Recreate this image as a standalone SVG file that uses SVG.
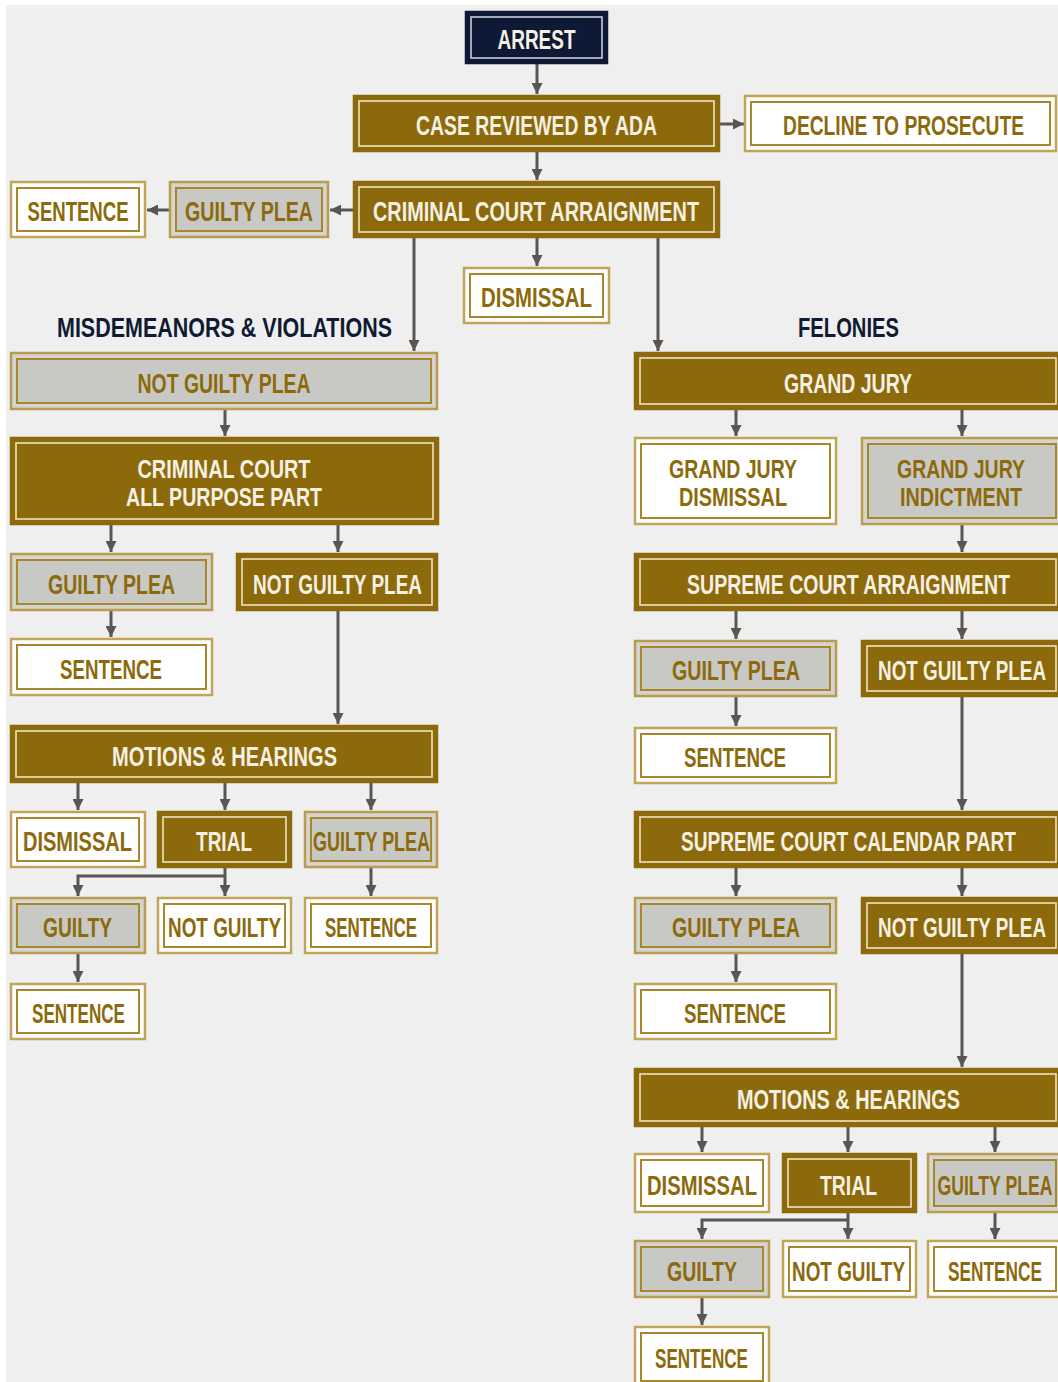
<svg xmlns="http://www.w3.org/2000/svg" width="1058" height="1382" viewBox="0 0 1058 1382">
<style>
.o{stroke-width:2.5}
.i{stroke-width:2}
.gold .o{fill:#8c6a0c;stroke:#8c6a0c}
.gold .i{fill:none;stroke:#eee3c2;stroke-width:1.6}
.white .o{fill:#ffffff;stroke:#c2a459}
.white .i{fill:#ffffff;stroke:#a8862c}
.gray .o{fill:#d4d4d0;stroke:#b99b52}
.gray .i{fill:#c8c8c4;stroke:#a8862c}
.navy .o{fill:#0e1a35;stroke:#0e1a35}
.navy .i{fill:none;stroke:#c9cdd6;stroke-width:1.6}
text{font-family:"Liberation Sans",Arial,sans-serif;font-weight:bold;font-size:19.5px;text-anchor:middle}
text.two{font-size:17.6px}
text.sm{font-size:17.5px}
.gold text,.navy text{fill:#f5f0e2}
.white text,.gray text{fill:#8c6a0c}
.lbl{fill:#0f1a33}
.c line,.c path{stroke:#5b5551;stroke-width:3;fill:none}
</style>
<defs>
<marker id="ah" markerUnits="userSpaceOnUse" markerWidth="12" markerHeight="11" refX="11" refY="5.5" orient="auto">
<path d="M0,0 L11,5.5 L0,11 Z" fill="#5b5551"/>
</marker>
</defs>
<rect x="0" y="0" width="1058" height="1382" fill="#ffffff"/>
<rect x="6" y="5" width="1052" height="1377" fill="#efefef"/>

<g class="c" id="connectors">
<line x1="537" y1="64" x2="537" y2="94" marker-end="url(#ah)"/>
<line x1="720" y1="124" x2="744" y2="124" marker-end="url(#ah)"/>
<line x1="537" y1="152" x2="537" y2="180" marker-end="url(#ah)"/>
<line x1="353" y1="210" x2="330" y2="210" marker-end="url(#ah)"/>
<line x1="169" y1="210" x2="147" y2="210" marker-end="url(#ah)"/>
<line x1="537" y1="238" x2="537" y2="266" marker-end="url(#ah)"/>
<line x1="414" y1="238" x2="414" y2="351" marker-end="url(#ah)"/>
<line x1="658" y1="238" x2="658" y2="351" marker-end="url(#ah)"/>
<line x1="225" y1="410" x2="225" y2="436" marker-end="url(#ah)"/>
<line x1="111" y1="525" x2="111" y2="552" marker-end="url(#ah)"/>
<line x1="338" y1="525" x2="338" y2="552" marker-end="url(#ah)"/>
<line x1="111" y1="611" x2="111" y2="637" marker-end="url(#ah)"/>
<line x1="338" y1="611" x2="338" y2="724" marker-end="url(#ah)"/>
<line x1="78" y1="783" x2="78" y2="810" marker-end="url(#ah)"/>
<line x1="225" y1="783" x2="225" y2="810" marker-end="url(#ah)"/>
<line x1="371" y1="783" x2="371" y2="810" marker-end="url(#ah)"/>
<line x1="225" y1="868" x2="225" y2="896" marker-end="url(#ah)"/>
<path d="M225,876 H78 V896" marker-end="url(#ah)"/>
<line x1="371" y1="868" x2="371" y2="896" marker-end="url(#ah)"/>
<line x1="78" y1="954" x2="78" y2="982" marker-end="url(#ah)"/>
<line x1="736" y1="410" x2="736" y2="436" marker-end="url(#ah)"/>
<line x1="962" y1="410" x2="962" y2="436" marker-end="url(#ah)"/>
<line x1="962" y1="525" x2="962" y2="552" marker-end="url(#ah)"/>
<line x1="736" y1="611" x2="736" y2="639" marker-end="url(#ah)"/>
<line x1="962" y1="611" x2="962" y2="639" marker-end="url(#ah)"/>
<line x1="736" y1="697" x2="736" y2="726" marker-end="url(#ah)"/>
<line x1="962" y1="697" x2="962" y2="810" marker-end="url(#ah)"/>
<line x1="736" y1="868" x2="736" y2="896" marker-end="url(#ah)"/>
<line x1="962" y1="868" x2="962" y2="896" marker-end="url(#ah)"/>
<line x1="736" y1="954" x2="736" y2="982" marker-end="url(#ah)"/>
<line x1="962" y1="954" x2="962" y2="1067" marker-end="url(#ah)"/>
<line x1="702" y1="1127" x2="702" y2="1152" marker-end="url(#ah)"/>
<line x1="848" y1="1127" x2="848" y2="1152" marker-end="url(#ah)"/>
<line x1="995" y1="1127" x2="995" y2="1152" marker-end="url(#ah)"/>
<line x1="848" y1="1213" x2="848" y2="1239" marker-end="url(#ah)"/>
<path d="M848,1220 H702 V1239" marker-end="url(#ah)"/>
<line x1="995" y1="1213" x2="995" y2="1239" marker-end="url(#ah)"/>
<line x1="702" y1="1298" x2="702" y2="1325" marker-end="url(#ah)"/>
</g>

<g id="labels">
<text class="lbl" transform="translate(224.5,337) scale(1,1.42)" textLength="335" lengthAdjust="spacingAndGlyphs">MISDEMEANORS &amp; VIOLATIONS</text>
<text class="lbl" transform="translate(848.5,337) scale(1,1.42)" textLength="101" lengthAdjust="spacingAndGlyphs">FELONIES</text>
</g>

<g id="arrest" class="navy"><rect class="o" x="466" y="12" width="141" height="51"/><rect class="i" x="471" y="17" width="131" height="41"/><text transform="translate(536.5,49) scale(1,1.45)" textLength="78" lengthAdjust="spacingAndGlyphs">ARREST</text></g>
<g id="case-reviewed" class="gold"><rect class="o" x="354" y="96" width="365" height="55"/><rect class="i" x="359" y="101" width="355" height="45"/><text transform="translate(536.5,135) scale(1,1.45)" textLength="241" lengthAdjust="spacingAndGlyphs">CASE REVIEWED BY ADA</text></g>
<g id="decline" class="white"><rect class="o" x="745" y="96" width="311" height="55"/><rect class="i" x="751" y="102" width="299" height="43"/><text transform="translate(903.5,135) scale(1,1.45)" textLength="241" lengthAdjust="spacingAndGlyphs">DECLINE TO PROSECUTE</text></g>
<g id="cc-arraignment" class="gold"><rect class="o" x="354" y="182" width="365" height="55"/><rect class="i" x="359" y="187" width="355" height="45"/><text transform="translate(536,221) scale(1,1.45)" textLength="326" lengthAdjust="spacingAndGlyphs">CRIMINAL COURT ARRAIGNMENT</text></g>
<g id="guilty-plea-0" class="gray"><rect class="o" x="170" y="182" width="158" height="55"/><rect class="i" x="176" y="188" width="146" height="43"/><text transform="translate(249,221) scale(1,1.45)" textLength="128" lengthAdjust="spacingAndGlyphs">GUILTY PLEA</text></g>
<g id="sentence-0" class="white"><rect class="o" x="11" y="182" width="134" height="55"/><rect class="i" x="17" y="188" width="122" height="43"/><text transform="translate(78,221) scale(1,1.45)" textLength="101" lengthAdjust="spacingAndGlyphs">SENTENCE</text></g>
<g id="dismissal-0" class="white"><rect class="o" x="464" y="268" width="145" height="55"/><rect class="i" x="470" y="274" width="133" height="43"/><text transform="translate(536.5,307) scale(1,1.45)" textLength="111" lengthAdjust="spacingAndGlyphs">DISMISSAL</text></g>

<g id="m-not-guilty-plea" class="gray"><rect class="o" x="11" y="353" width="426" height="56"/><rect class="i" x="17" y="359" width="414" height="44"/><text transform="translate(224,392.5) scale(1,1.45)" textLength="173" lengthAdjust="spacingAndGlyphs">NOT GUILTY PLEA</text></g>
<g id="m-ccapp" class="gold"><rect class="o" x="11" y="438" width="427" height="86"/><rect class="i" x="16" y="443" width="417" height="76"/><text class="two" transform="translate(224,478) scale(1,1.42)"><tspan x="0" y="0" textLength="173" lengthAdjust="spacingAndGlyphs">CRIMINAL COURT</tspan><tspan x="0" y="19.7" textLength="196" lengthAdjust="spacingAndGlyphs">ALL PURPOSE PART</tspan></text></g>
<g id="m-guilty-plea-1" class="gray"><rect class="o" x="11" y="554" width="201" height="56"/><rect class="i" x="17" y="560" width="189" height="44"/><text transform="translate(111.5,593.5) scale(1,1.45)" textLength="127" lengthAdjust="spacingAndGlyphs">GUILTY PLEA</text></g>
<g id="m-not-guilty-plea-1" class="gold"><rect class="o" x="237" y="554" width="200" height="56"/><rect class="i" x="242" y="559" width="190" height="46"/><text transform="translate(337.5,593.5) scale(1,1.45)" textLength="169" lengthAdjust="spacingAndGlyphs">NOT GUILTY PLEA</text></g>
<g id="m-sentence-1" class="white"><rect class="o" x="11" y="639" width="201" height="56"/><rect class="i" x="17" y="645" width="189" height="44"/><text transform="translate(111,678.5) scale(1,1.45)" textLength="102" lengthAdjust="spacingAndGlyphs">SENTENCE</text></g>
<g id="m-motions" class="gold"><rect class="o" x="11" y="726" width="426" height="56"/><rect class="i" x="16" y="731" width="416" height="46"/><text transform="translate(224.5,765.5) scale(1,1.45)" textLength="225" lengthAdjust="spacingAndGlyphs">MOTIONS &amp; HEARINGS</text></g>
<g id="m-dismissal" class="white"><rect class="o" x="11" y="812" width="134" height="55"/><rect class="i" x="17" y="818" width="122" height="43"/><text transform="translate(77.5,851) scale(1,1.45)" textLength="109" lengthAdjust="spacingAndGlyphs">DISMISSAL</text></g>
<g id="m-trial" class="gold"><rect class="o" x="158" y="812" width="133" height="55"/><rect class="i" x="163" y="817" width="123" height="45"/><text transform="translate(224,851) scale(1,1.45)" textLength="56" lengthAdjust="spacingAndGlyphs">TRIAL</text></g>
<g id="m-guilty-plea-2" class="gray"><rect class="o" x="305" y="812" width="132" height="55"/><rect class="i" x="311" y="818" width="120" height="43"/><text transform="translate(371.5,851) scale(1,1.45)" textLength="117" lengthAdjust="spacingAndGlyphs">GUILTY PLEA</text></g>
<g id="m-guilty" class="gray"><rect class="o" x="11" y="898" width="134" height="55"/><rect class="i" x="17" y="904" width="122" height="43"/><text transform="translate(77.5,937) scale(1,1.45)" textLength="69" lengthAdjust="spacingAndGlyphs">GUILTY</text></g>
<g id="m-not-guilty" class="white"><rect class="o" x="158" y="898" width="133" height="55"/><rect class="i" x="164" y="904" width="121" height="43"/><text transform="translate(224.5,937) scale(1,1.45)" textLength="113" lengthAdjust="spacingAndGlyphs">NOT GUILTY</text></g>
<g id="m-sentence-2" class="white"><rect class="o" x="305" y="898" width="132" height="55"/><rect class="i" x="311" y="904" width="120" height="43"/><text transform="translate(371,937) scale(1,1.45)" textLength="92" lengthAdjust="spacingAndGlyphs">SENTENCE</text></g>
<g id="m-sentence-3" class="white"><rect class="o" x="11" y="984" width="134" height="55"/><rect class="i" x="17" y="990" width="122" height="43"/><text transform="translate(78.5,1023) scale(1,1.45)" textLength="93" lengthAdjust="spacingAndGlyphs">SENTENCE</text></g>

<g id="f-grand-jury" class="gold"><rect class="o" x="635" y="353" width="428" height="56"/><rect class="i" x="640" y="358" width="416" height="46"/><text transform="translate(848,392.5) scale(1,1.45)" textLength="128" lengthAdjust="spacingAndGlyphs">GRAND JURY</text></g>
<g id="f-gj-dismissal" class="white"><rect class="o" x="635" y="438" width="201" height="86"/><rect class="i" x="641" y="444" width="189" height="74"/><text class="two" transform="translate(733,478) scale(1,1.42)"><tspan x="0" y="0" textLength="128" lengthAdjust="spacingAndGlyphs">GRAND JURY</tspan><tspan x="0" y="19.7" textLength="108" lengthAdjust="spacingAndGlyphs">DISMISSAL</tspan></text></g>
<g id="f-gj-indictment" class="gray"><rect class="o" x="862" y="438" width="201" height="86"/><rect class="i" x="868" y="444" width="188" height="74"/><text class="two" transform="translate(961,478) scale(1,1.42)"><tspan x="0" y="0" textLength="128" lengthAdjust="spacingAndGlyphs">GRAND JURY</tspan><tspan x="0" y="19.7" textLength="122" lengthAdjust="spacingAndGlyphs">INDICTMENT</tspan></text></g>
<g id="f-sc-arraignment" class="gold"><rect class="o" x="635" y="554" width="428" height="56"/><rect class="i" x="640" y="559" width="416" height="46"/><text transform="translate(848.5,593.5) scale(1,1.45)" textLength="323" lengthAdjust="spacingAndGlyphs">SUPREME COURT ARRAIGNMENT</text></g>
<g id="f-guilty-plea-1" class="gray"><rect class="o" x="635" y="641" width="201" height="55"/><rect class="i" x="641" y="647" width="189" height="43"/><text transform="translate(736,680) scale(1,1.45)" textLength="128" lengthAdjust="spacingAndGlyphs">GUILTY PLEA</text></g>
<g id="f-not-guilty-plea-1" class="gold"><rect class="o" x="862" y="641" width="201" height="55"/><rect class="i" x="867" y="646" width="189" height="45"/><text transform="translate(962,680) scale(1,1.45)" textLength="168" lengthAdjust="spacingAndGlyphs">NOT GUILTY PLEA</text></g>
<g id="f-sentence-1" class="white"><rect class="o" x="635" y="728" width="201" height="55"/><rect class="i" x="641" y="734" width="189" height="43"/><text transform="translate(735,767) scale(1,1.45)" textLength="102" lengthAdjust="spacingAndGlyphs">SENTENCE</text></g>
<g id="f-sc-calendar" class="gold"><rect class="o" x="635" y="812" width="428" height="55"/><rect class="i" x="640" y="817" width="416" height="45"/><text transform="translate(848.5,851) scale(1,1.45)" textLength="335" lengthAdjust="spacingAndGlyphs">SUPREME COURT CALENDAR PART</text></g>
<g id="f-guilty-plea-2" class="gray"><rect class="o" x="635" y="898" width="201" height="55"/><rect class="i" x="641" y="904" width="189" height="43"/><text transform="translate(736,937) scale(1,1.45)" textLength="128" lengthAdjust="spacingAndGlyphs">GUILTY PLEA</text></g>
<g id="f-not-guilty-plea-2" class="gold"><rect class="o" x="862" y="898" width="201" height="55"/><rect class="i" x="867" y="903" width="189" height="45"/><text transform="translate(962,937) scale(1,1.45)" textLength="168" lengthAdjust="spacingAndGlyphs">NOT GUILTY PLEA</text></g>
<g id="f-sentence-2" class="white"><rect class="o" x="635" y="984" width="201" height="55"/><rect class="i" x="641" y="990" width="189" height="43"/><text transform="translate(735,1023) scale(1,1.45)" textLength="102" lengthAdjust="spacingAndGlyphs">SENTENCE</text></g>
<g id="f-motions" class="gold"><rect class="o" x="635" y="1069" width="428" height="57"/><rect class="i" x="640" y="1074" width="416" height="47"/><text transform="translate(848.5,1109) scale(1,1.45)" textLength="223" lengthAdjust="spacingAndGlyphs">MOTIONS &amp; HEARINGS</text></g>
<g id="f-dismissal" class="white"><rect class="o" x="635" y="1154" width="134" height="58"/><rect class="i" x="641" y="1160" width="122" height="46"/><text transform="translate(702,1194.5) scale(1,1.45)" textLength="110" lengthAdjust="spacingAndGlyphs">DISMISSAL</text></g>
<g id="f-trial" class="gold"><rect class="o" x="783" y="1154" width="133" height="58"/><rect class="i" x="788" y="1159" width="123" height="48"/><text transform="translate(848.5,1194.5) scale(1,1.45)" textLength="57" lengthAdjust="spacingAndGlyphs">TRIAL</text></g>
<g id="f-guilty-plea-3" class="gray"><rect class="o" x="928" y="1154" width="135" height="58"/><rect class="i" x="934" y="1160" width="122" height="46"/><text class="sm" transform="translate(995,1194.5) scale(1,1.62)" textLength="115" lengthAdjust="spacingAndGlyphs">GUILTY PLEA</text></g>
<g id="f-guilty" class="gray"><rect class="o" x="635" y="1241" width="134" height="56"/><rect class="i" x="641" y="1247" width="122" height="44"/><text transform="translate(702,1280.5) scale(1,1.45)" textLength="70" lengthAdjust="spacingAndGlyphs">GUILTY</text></g>
<g id="f-not-guilty" class="white"><rect class="o" x="783" y="1241" width="133" height="56"/><rect class="i" x="789" y="1247" width="121" height="44"/><text transform="translate(848.5,1280.5) scale(1,1.45)" textLength="113" lengthAdjust="spacingAndGlyphs">NOT GUILTY</text></g>
<g id="f-sentence-3" class="white"><rect class="o" x="928" y="1241" width="135" height="56"/><rect class="i" x="934" y="1247" width="122" height="44"/><text transform="translate(995,1280.5) scale(1,1.45)" textLength="94" lengthAdjust="spacingAndGlyphs">SENTENCE</text></g>
<g id="f-sentence-4" class="white"><rect class="o" x="635" y="1327" width="134" height="60"/><rect class="i" x="641" y="1333" width="122" height="48"/><text transform="translate(701.5,1368) scale(1,1.45)" textLength="93" lengthAdjust="spacingAndGlyphs">SENTENCE</text></g>
</svg>
